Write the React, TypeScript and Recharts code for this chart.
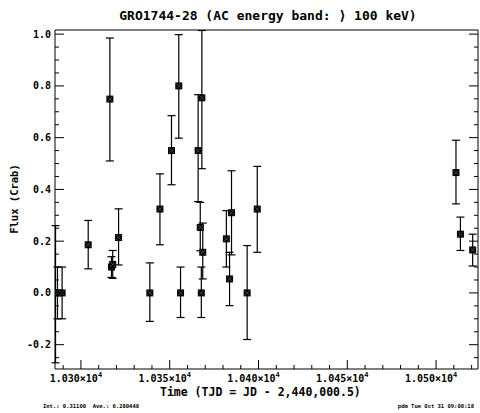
import React from "react";
import {
    ScatterChart,
    Scatter,
    XAxis,
    YAxis,
    ErrorBar,
} from "recharts";

// TJD of each measurement
const times = [
    10285.7, 10286.8, 10289.4, 10304.1, 10316.3, 10317.2, 10317.9, 10321.2,
    10338.8, 10344.5, 10351.0, 10355.1, 10356.1, 10366.0, 10368.1, 10367.2,
    10368.6, 10367.8, 10381.9, 10384.8, 10383.7, 10393.6, 10399.3, 10511.2,
    10513.7, 10520.6,
];
// flux in Crab units
const fluxes = [
    0.0, 0.0, 0.0, 0.186, 0.749, 0.1, 0.11, 0.214,
    0.0, 0.324, 0.55, 0.8, 0.0, 0.55, 0.754, 0.253,
    0.157, 0.0, 0.209, 0.31, 0.054, 0.0, 0.324, 0.465,
    0.227, 0.166,
];
const errLow = [
    0.27, 0.1, 0.1, 0.093, 0.239, 0.04, 0.054, 0.106,
    0.11, 0.138, 0.132, 0.202, 0.095, 0.197, 0.274, 0.09,
    0.103, 0.095, 0.109, 0.163, 0.103, 0.18, 0.167, 0.121,
    0.063, 0.062,
];
const errHigh = [
    0.26, 0.1, 0.1, 0.094, 0.236, 0.04, 0.054, 0.111,
    0.116, 0.136, 0.135, 0.198, 0.1, 0.216, 0.26, 0.097,
    0.113, 0.1, 0.109, 0.162, 0.103, 0.183, 0.165, 0.125,
    0.066, 0.061,
];

const xMajor = [10300, 10350, 10400, 10450, 10500];
const xTicks = [
    10290, 10300, 10310, 10320, 10330, 10340, 10350, 10360, 10370, 10380, 10390,
    10400, 10410, 10420, 10430, 10440, 10450, 10460, 10470, 10480, 10490, 10500,
    10510, 10520,
];
const yMajor = [-0.2, 0.0, 0.2, 0.4, 0.6, 0.8, 1.0];
const yTicks = [
    -0.25, -0.2, -0.15, -0.1, -0.05, 0.0, 0.05, 0.1, 0.15, 0.2, 0.25, 0.3, 0.35,
    0.4, 0.45, 0.5, 0.55, 0.6, 0.65, 0.7, 0.75, 0.8, 0.85, 0.9, 0.95, 1.0,
];

const data = times.map((t, i) => ({
    t,
    flux: fluxes[i],
    err: [errLow[i], errHigh[i]],
}));

const FONT = "'DejaVu Sans Mono', monospace";

const isMajorX = (v: number) => xMajor.some(m => Math.abs(m - v) < 1e-6);
const isMajorY = (v: number) => yMajor.some(m => Math.abs(m - v) < 1e-6);

const BottomTick = ({ x, y, payload }: any) => {
    const major = isMajorX(payload.value);
    return (
        <g>
            <line x1={x} y1={y} x2={x} y2={y - (major ? 9 : 4)} stroke="#000" strokeWidth={1} />
            {major && (
                <text x={x - 5} y={y + 13} textAnchor="middle" fontFamily={FONT} fontWeight="bold" fontSize={10} fill="#000">
                    {(payload.value / 1e4).toFixed(3)}×10
                    <tspan dy={-5} fontSize={7}>4</tspan>
                </text>
            )}
        </g>
    );
};

const TopTick = ({ x, y, payload }: any) => {
    const major = isMajorX(payload.value);
    return <line x1={x} y1={y} x2={x} y2={y + (major ? 9 : 4)} stroke="#000" strokeWidth={1} />;
};

const LeftTick = ({ x, y, payload }: any) => {
    const major = isMajorY(payload.value);
    return (
        <g>
            <line x1={x} y1={y} x2={x + (major ? 9 : 4)} y2={y} stroke="#000" strokeWidth={1} />
            {major && (
                <text x={x - 4} y={y + 3.5} textAnchor="end" fontFamily={FONT} fontWeight="bold" fontSize={10} fill="#000">
                    {payload.value.toFixed(1)}
                </text>
            )}
        </g>
    );
};

const RightTick = ({ x, y, payload }: any) => {
    const major = isMajorY(payload.value);
    return <line x1={x} y1={y} x2={x - (major ? 9 : 4)} y2={y} stroke="#000" strokeWidth={1} />;
};

const Marker = ({ cx, cy }: any) => (
    <g>
        <rect x={cx - 3.5} y={cy - 3.5} width={7} height={7} fill="#000" />
        <path d={`M${cx - 2.5},${cy - 2.5}L${cx + 2.5},${cy + 2.5}M${cx + 2.5},${cy - 2.5}L${cx - 2.5},${cy + 2.5}`} stroke="#555" strokeWidth={0.8} />
    </g>
);

const xDomain = [10285.4, 10523.6];
const yDomain = [-0.294, 1.016];

export default function App() {
    return (
        <div style={{ position: "absolute", left: 0, top: 0, width: 480, height: 413, background: "#fff" }}>
            <ScatterChart width={480} height={413} margin={{ top: 0, right: 0, bottom: 0, left: 0 }}>
                <XAxis
                    xAxisId="b"
                    dataKey="t"
                    type="number"
                    orientation="bottom"
                    domain={xDomain}
                    allowDataOverflow
                    ticks={xTicks}
                    interval={0}
                    height={44}
                    tickSize={0}
                    tickMargin={0}
                    tickLine={false}
                    stroke="#000"
                    tick={<BottomTick />}
                />
                <XAxis
                    xAxisId="t"
                    type="number"
                    orientation="top"
                    domain={xDomain}
                    allowDataOverflow
                    ticks={xTicks}
                    interval={0}
                    height={30}
                    tickSize={0}
                    tickMargin={0}
                    tickLine={false}
                    stroke="#000"
                    tick={<TopTick />}
                />
                <YAxis
                    yAxisId="l"
                    dataKey="flux"
                    type="number"
                    orientation="left"
                    domain={yDomain}
                    allowDataOverflow
                    ticks={yTicks}
                    interval={0}
                    width={55}
                    tickSize={0}
                    tickMargin={0}
                    tickLine={false}
                    stroke="#000"
                    tick={<LeftTick />}
                />
                <YAxis
                    yAxisId="r"
                    type="number"
                    orientation="right"
                    domain={yDomain}
                    allowDataOverflow
                    ticks={yTicks}
                    interval={0}
                    width={2}
                    tickSize={0}
                    tickMargin={0}
                    tickLine={false}
                    stroke="#000"
                    tick={<RightTick />}
                />
                <Scatter
                    data={data}
                    xAxisId="b"
                    yAxisId="l"
                    dataKey="flux"
                    fill="#000"
                    shape={<Marker />}
                    isAnimationActive={false}
                >
                    <ErrorBar dataKey="err" direction="y" width={4} stroke="#000" strokeWidth={1.2} isAnimationActive={false} />
                </Scatter>
            </ScatterChart>
            <div style={{ position: "absolute", left: 0, width: 480, top: 8, paddingLeft: 56, boxSizing: "border-box", textAlign: "center", fontFamily: FONT, fontWeight: "bold", fontSize: 13, color: "#000", whiteSpace: "nowrap" }}>
                GRO1744-28 (AC energy band: ⟩ 100 keV)
            </div>
            <div style={{ position: "absolute", left: 160, width: 200, top: 386, textAlign: "center", fontFamily: FONT, fontWeight: "bold", fontSize: 11.5, lineHeight: "13px", color: "#000", whiteSpace: "nowrap" }}>
                Time (TJD = JD - 2,440,000.5)
            </div>
            <div style={{ position: "absolute", left: 14, top: 199, transform: "translate(-50%, -50%) rotate(-90deg)", fontFamily: FONT, fontWeight: "bold", fontSize: 10.5, color: "#000", whiteSpace: "nowrap" }}>
                Flux (Crab)
            </div>
            <div style={{ position: "absolute", left: 43, top: 403, fontFamily: FONT, fontWeight: "bold", fontSize: 5.5, lineHeight: "7px", color: "#000", whiteSpace: "nowrap" }}>
                Int.: 0.31100&nbsp;&nbsp;Ave.: 0.280448
            </div>
            <div style={{ position: "absolute", right: 6, top: 403, fontFamily: FONT, fontWeight: "bold", fontSize: 5.5, lineHeight: "7px", color: "#000", whiteSpace: "nowrap" }}>
                pdm Tue Oct 31 09:08:18
            </div>
        </div>
    );
}
